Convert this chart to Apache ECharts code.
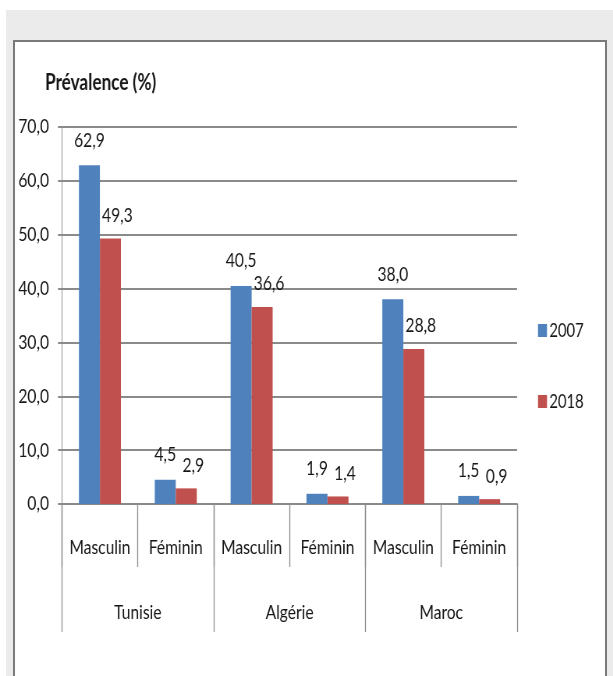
<!DOCTYPE html>
<html>
<head>
<meta charset="utf-8">
<script src="https://cdn.jsdelivr.net/npm/echarts@6/dist/echarts.min.js"></script>
<style>
  html, body { margin: 0; padding: 0; background: #fff; overflow: hidden; }
  #frame { position: absolute; left: 6px; top: 10px; width: 607px; height: 666px; background: #ebebec; }
  #panel { position: absolute; left: 13px; top: 40px; width: 590px; height: 700px; background: #fff; border: 2px solid #7a7a7a; }
  /* the source chart has narrow, tall text: draw wider and squeeze horizontally */
  #chart { position: absolute; left: 0; top: 0; width: 786px; height: 676px; transform-origin: 0 0; transform: scaleX(0.78); }
</style>
</head>
<body>
<div id="frame"></div>
<div id="panel"></div>
<div id="chart"></div>
<script>
// values
const sexes = ['Masculin', 'Féminin', 'Masculin', 'Féminin', 'Masculin', 'Féminin'];
const countries = ['Tunisie', 'Algérie', 'Maroc'];
const values2007 = [62.9, 4.5, 40.5, 1.9, 38.0, 1.5];
const values2018 = [49.3, 2.9, 36.6, 1.4, 28.8, 0.9];
const years = ['2007', '2018'];

const S = 0.78; // horizontal squeeze, x positions below are divided by it
const X = px => px / S;

const FONT = "Lato, 'Open Sans', sans-serif";
const TEXT = '#161616';
const LINE = '#8a8a8a';

const fmt = v => v.toFixed(1).replace('.', ',');

const chart = echarts.init(document.getElementById('chart'), null, { renderer: 'canvas' });

chart.setOption({
  backgroundColor: 'transparent',
  animation: false,
  textStyle: { fontFamily: FONT, color: TEXT },
  title: {
    text: 'Prévalence (%)',
    left: X(45),
    top: 72,
    padding: 0,
    textStyle: { fontFamily: FONT, fontSize: 22, fontWeight: 'bold', color: TEXT }
  },
  legend: {
    orient: 'vertical',
    left: X(538),
    top: 321,
    padding: 0,
    itemWidth: X(9),
    itemHeight: 13,
    itemGap: 52,
    icon: 'rect',
    data: years,
    textStyle: { fontFamily: FONT, fontSize: 19, color: TEXT, padding: [0, 0, 0, -2] }
  },
  grid: { left: X(62), right: X(613 - 517), top: 127, bottom: 172 },
  yAxis: {
    type: 'value',
    min: 0,
    max: 70,
    interval: 10,
    axisLine: { show: true, lineStyle: { color: LINE, width: 1 } },
    axisTick: { show: true, length: X(4), lineStyle: { color: LINE, width: 2 } },
    splitLine: { lineStyle: { color: LINE, width: 2 } },
    axisLabel: { fontFamily: FONT, fontSize: 20, color: TEXT, margin: X(13), formatter: fmt }
  },
  xAxis: [
    {
      type: 'category',
      data: sexes,
      position: 'bottom',
      axisLine: { show: true, lineStyle: { color: LINE, width: 2 } },
      axisTick: { show: true, interval: 0, length: 63, lineStyle: { color: LINE, width: 1.3 } },
      axisLabel: { interval: 0, fontFamily: FONT, fontSize: 20, color: TEXT, margin: 34 }
    },
    {
      type: 'category',
      data: countries,
      position: 'bottom',
      axisLine: { show: false },
      axisTick: { show: true, interval: 0, length: 128, lineStyle: { color: LINE, width: 1.3 } },
      axisLabel: { interval: 0, fontFamily: FONT, fontSize: 20, color: TEXT, margin: 99 }
    }
  ],
  series: [
    {
      name: years[0],
      type: 'bar',
      xAxisIndex: 0,
      data: values2007,
      barWidth: X(21),
      barGap: '0%',
      itemStyle: { color: '#4F81BD' },
      label: {
        show: true, position: 'top', distance: 15,
        fontFamily: FONT, fontSize: 20, color: TEXT,
        formatter: p => fmt(p.value)
      }
    },
    {
      name: years[1],
      type: 'bar',
      xAxisIndex: 0,
      data: values2018,
      barWidth: X(21),
      barGap: '0%',
      itemStyle: { color: '#C0504D' },
      label: {
        show: true, position: 'top', distance: 13, offset: [X(7), 0],
        fontFamily: FONT, fontSize: 20, color: TEXT,
        formatter: p => fmt(p.value)
      }
    }
  ]
});
</script>
</body>
</html>
